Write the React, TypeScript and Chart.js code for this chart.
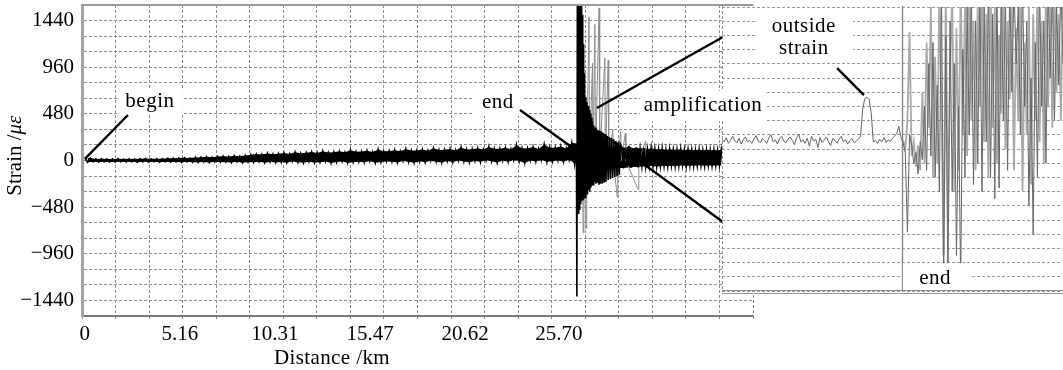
import React, { useEffect, useRef } from 'react';
import { Chart, registerables } from 'chart.js';

Chart.register(...registerables);

// ---------------- main chart: axes ----------------
const X_MIN_KM = -0.15;
const X_MAX_KM = 36.22;
const X_GRID_DIVISIONS = 20;
const X_TICK_LABELS_KM = [0, 5.16, 10.31, 15.47, 20.62, 25.7];

const Y_MIN = -1600;
const Y_MAX = 1600;
const Y_GRID_STEP = 160;
const Y_TICK_LABELS = [-1440, -960, -480, 0, 480, 960, 1440];

// ---------------- main chart: data ----------------
// strain noise along the fibre before its end (one sample every 0.15 km)
const NOISE_START_KM = 0;
const NOISE_STEP_KM = 0.15;
const NOISE_STRAIN = [
  30, -18, 25, -14, 16, -15, 18, -14, 16, -16,
  16, -15, 18, -14, 15, -16, 17, -13, 16, -17,
  18, -14, 20, -16, 17, -13, 19, -17, 18, -14,
  22, -16, 24, -15, 26, -18, 28, -14, 25, -17,
  32, -18, 34, -16, 38, -20, 34, -14, 40, -18,
  44, -16, 40, -20, 48, -14, 44, -22, 52, -16,
  60, -18, 66, -12, 62, -22, 72, -14, 64, -20,
  70, -16, 78, -22, 68, -10, 86, -18, 74, -24,
  80, -12, 88, -20, 78, -18, 96, -10, 82, -26,
  86, -16, 94, -10, 84, -24, 106, -18, 90, -12,
  92, -18, 100, -6, 88, -22, 112, -16, 96, -10,
  98, -12, 106, -20, 94, -4, 118, -14, 102, -22,
  104, -8, 112, -18, 100, -2, 126, -12, 108, -20,
  110, -6, 118, -16, 106, 0, 134, -10, 114, -18,
  116, -4, 126, -14, 112, 2, 140, -8, 120, -20,
  120, -2, 130, -12, 116, 4, 158, -6, 126, -26,
  124, 0, 138, -10, 118, 6, 165, -14, 132, -8,
  132, 2, 144, -12, 124, 8, 180, -30,
];

// the fibre end: huge reflection burst
const SPIKE_KM = [
  26.58, 26.62, 26.65, 26.67, 26.68,
  26.70, 26.72, 26.74, 26.76, 26.78, 26.80, 26.82, 26.84, 26.86, 26.88, 26.90, 26.92, 26.94, 26.96, 26.98,
  27.00, 27.02, 27.04, 27.06, 27.08, 27.10,
  27.13, 27.16, 27.19, 27.22, 27.25, 27.28, 27.31, 27.34, 27.37, 27.40, 27.43, 27.46, 27.49, 27.52, 27.55,
  27.59, 27.63, 27.67, 27.71, 27.75, 27.79, 27.83, 27.87, 27.91, 27.95,
  28.00, 28.05, 28.10, 28.15, 28.20, 28.25,
  28.31, 28.37, 28.43, 28.49, 28.55, 28.61, 28.67, 28.73, 28.79, 28.85, 28.91, 28.97, 29.03,
];
const SPIKE_STRAIN = [
  40, -20, 90, -60, -1400,
  1700, -500, 1700, -550, 1700, -500, 1700, -480, 1700, -450, 1650, -420, 1600, -400, 1500,
  -380, 1200, -400, 900, -350, 700,
  -380, 650, -330, 600, -350, 560, -300, 520, -320, 480, -280, 440, -260, 400, -250,
  360, -220, 340, -240, 320, -230, 310, -250, 300, -240,
  300, -240, 280, -230, 270, -220,
  250, -200, 240, -190, 230, -180, 220, -170, 200, -160, 190, -150, 170,
];

// noise after the fibre end (one sample every 0.1 km)
const TAIL_START_KM = 29.1;
const TAIL_STEP_KM = 0.1;
const TAIL_STRAIN = [
  140, -80, 130, -70, 150, -75, 125, -65, 135, -70,
  120, -60, 130, -65, 115, -55, 125, -60, 118, -62,
  112, -58, 120, -55, 108, -60, 116, -52, 110, -58,
  110, -55, 115, -50, 105, -58, 112, -52, 108, -55,
  106, -52, 112, -50, 104, -56, 110, -50, 106, -54,
  108, -50, 104, -52, 110, -48,
];

// faint grey echoes of the burst
const ECHO_KM = [
  26.99, 27.01, 27.05, 27.17, 27.21, 27.33, 27.36, 27.52, 27.55, 27.65, 27.68, 27.88, 27.91, 28.19, 28.22,
  28.37, 28.40, 28.62, 28.65, 28.86, 28.89, 29.05, 29.08, 29.30, 29.33, 30.00, 30.03, 30.40, 30.43,
];
const ECHO_STRAIN = [
  0, -745, 0, -700, 0, 1480, 0, 1000, 0, 1400, 0, 1570, 0, 1055, 0,
  1030, 0, 320, 0, -375, 0, 300, 0, 280, 0, -300, 0, 200, 0,
];

// ---------------- inset (amplified view near the end) ----------------
const INSET_MIN_KM = 26.3;
const INSET_MAX_KM = 27.1;
const INSET_Y_MIN = -200;
const INSET_Y_MAX = 200;
const INSET_Y_STEP = 20;
const INSET_STEP_KM = 0.005;
const INSET_END_KM = 26.722;
const INSET_DARK_STRAIN = [
  14, 10, 16, 8, 12, 18, 11, 9, 15, 7,
  13, 17, 10, 12, 8, 14, 19, 11, 9, 15,
  12, 8, 16, 20, 10, 13, 7, 15, 18, 11,
  9, 14, 17, 12, 6, 16, 21, 10, 13, 8,
  15, 4, 18, 11, 14, 2, 16, 9, 13, 17,
  10, 5, 15, 12, 8, 14, 18, 10, 13, 7,
  12, 15, 9, 11, 14,
  18, 56, 71, 73, 70, 51, 10,
  12, 8, 14, 10, 16, 9, 13, 11, 15, 18, 22, 32, 16,
  8, -5, -117, 20, 5, -20, -5, -35, 10, -15,
  60, -30, 120, -10, 150, -40, 90, -60, 230, -190,
  160, -200, 180, -60, 120, -150, 60, -190, 140, -40,
  200, 20, 230, -50, 180, -20, 230, -60, 200, 10,
  230, -40, 190, -70, 230, -55, 230, 40, 210, -30,
  230, 80, 230, 120, 200, 20, 230, 60, 180, -80,
  100, -120, 150, -40, 230, 60, 180, -20, 230, 100,
  230, 40, 200, 90, 230, 120,
];
const INSET_LIGHT_START_KM = 26.725;
const INSET_LIGHT_STRAIN = [
  12, 0, 40, 165, -10, 10, -25, 5, -30, 80,
  -20, 150, 30, 200, -40, 130, -20, 230, 50, -150,
  230, -100, 100, 230, -60, 170, -30, 230, 20, 200,
  -10, 230, 40, 180, -30, 210, 60, 230, 10, 190,
  -40, 230, 30, 200, -20, 160, 50, 230, 0, 180,
  70, 200, -30, 170, 40, 230, -60, 150, 20, 200,
  -50, 190, 40, 230, 10, 180, -20, 230, 60, 200,
  30, 230, 80, 190, 40, 220,
];

// ---------------- annotation anchors (data coordinates) ----------------
const BEGIN_TEXT = { km: 3.53, strain: 612 };
const BEGIN_LINE = [{ km: 0.02, strain: 20 }, { km: 2.34, strain: 468 }];
const END_TEXT = { km: 22.39, strain: 592 };
const END_LINE = [{ km: 23.59, strain: 520 }, { km: 26.46, strain: 129 }];
const AMP_TEXT = { km: 33.51, strain: 561 };
const AMP_LINE_UP = [{ km: 27.76, strain: 540 }, { km: 34.59, strain: 1271 }];
const AMP_LINE_DOWN = [{ km: 27.92, strain: 293 }, { km: 34.59, strain: -633 }];
const OUTSIDE_TEXT = { km: 26.492, top: 173, bottom: 141 };
const OUTSIDE_LINE = [{ km: 26.57, strain: 114 }, { km: 26.633, strain: 76 }];
const INSET_END_TEXT = { km: 26.8, strain: -182 };

const SERIF = '"Liberation Serif", "Times New Roman", serif';
const INSET_LEFT = 722;
const INSET_TOP = 6;
const INSET_W = 341;
const INSET_H = 289;

function xy(km: number[], strain: number[]) {
  return km.map((x, i) => ({ x, y: strain[i] }));
}
function stepped(startKm: number, stepKm: number, strain: number[]) {
  return strain.map((y, i) => ({ x: +(startKm + i * stepKm).toFixed(4), y }));
}

function line(ctx: any, x1: number, y1: number, x2: number, y2: number, w = 2.2, color = '#000') {
  ctx.save();
  ctx.strokeStyle = color;
  ctx.lineWidth = w;
  ctx.lineCap = 'butt';
  ctx.beginPath();
  ctx.moveTo(x1, y1);
  ctx.lineTo(x2, y2);
  ctx.stroke();
  ctx.restore();
}

function boxText(ctx: any, text: string, cx: number, cy: number, halfW: number, halfH: number) {
  ctx.save();
  ctx.fillStyle = '#fff';
  ctx.fillRect(cx - halfW, cy - halfH, halfW * 2, halfH * 2);
  ctx.fillStyle = '#000';
  ctx.font = `21px ${SERIF}`;
  (ctx as any).letterSpacing = '0.5px';
  ctx.textAlign = 'center';
  ctx.textBaseline = 'middle';
  ctx.fillText(text, cx, cy);
  ctx.restore();
}

export default function App() {
  const mainRef = useRef<HTMLCanvasElement>(null);
  const insetRef = useRef<HTMLCanvasElement>(null);

  useEffect(() => {
    const gridStep = (X_MAX_KM - X_MIN_KM) / X_GRID_DIVISIONS;
    const gridTicks: number[] = [];
    for (let k = 0; k <= X_GRID_DIVISIONS; k++) gridTicks.push(+(X_MIN_KM + k * gridStep).toFixed(4));
    const xTickValues = [...gridTicks, ...X_TICK_LABELS_KM].sort((a, b) => a - b);
    const isLabel = (v: any) => X_TICK_LABELS_KM.includes(v);

    const noisePts = stepped(NOISE_START_KM, NOISE_STEP_KM, NOISE_STRAIN);
    const tailPts = stepped(TAIL_START_KM, TAIL_STEP_KM, TAIL_STRAIN);
    const mainPoints = [...noisePts, ...xy(SPIKE_KM, SPIKE_STRAIN), ...tailPts];
    // envelope of the dense noise: peaks (even samples) and troughs (odd samples)
    const bandUpper = [...noisePts, ...tailPts].filter((_, i) => i % 2 === 0);
    const bandLower = [...noisePts, ...tailPts].filter((_, i) => i % 2 === 1);
    const echoPoints = xy(ECHO_KM, ECHO_STRAIN);

    const mainDecor = {
      id: 'mainDecor',
      beforeDraw(chart: any) {
        const ctx = chart.ctx;
        ctx.save();
        ctx.fillStyle = '#fff';
        ctx.fillRect(0, 0, chart.width, chart.height);
        ctx.restore();
      },
      afterDraw(chart: any) {
        const ctx = chart.ctx;
        const xs = chart.scales.x;
        const ys = chart.scales.y;
        const a = chart.chartArea;
        const P = (p: any) => [xs.getPixelForValue(p.km), ys.getPixelForValue(p.strain)];
        // top frame
        line(ctx, a.left, a.top, a.right, a.top, 2, '#9a9a9a');

        // labels
        const [bx, by] = P(BEGIN_TEXT);
        boxText(ctx, 'begin', bx, by, 33, 13);
        const [ex, ey] = P(END_TEXT);
        boxText(ctx, 'end', ex, ey, 24, 13);
        const [ax, ay] = P(AMP_TEXT);
        boxText(ctx, 'amplification', ax, ay, 63, 15);

        // leader lines
        for (const seg of [BEGIN_LINE, END_LINE, AMP_LINE_UP, AMP_LINE_DOWN]) {
          const [x1, y1] = P(seg[0]);
          const [x2, y2] = P(seg[1]);
          line(ctx, x1, y1, x2, y2, 2.4);
        }

        // axis titles
        ctx.save();
        ctx.fillStyle = '#000';
        ctx.font = `21px ${SERIF}`;
        (ctx as any).letterSpacing = '0.4px';
        ctx.textAlign = 'center';
        ctx.textBaseline = 'middle';
        ctx.fillText('Distance /km', xs.getPixelForValue(13.4), a.bottom + 42);
        ctx.restore();

        ctx.save();
        ctx.translate(15, ys.getPixelForValue(50));
        ctx.rotate(-Math.PI / 2);
        ctx.fillStyle = '#000';
        ctx.textBaseline = 'middle';
        ctx.textAlign = 'left';
        ctx.font = `21px ${SERIF}`;
        const part1 = 'Strain /';
        const w1 = ctx.measureText(part1).width;
        ctx.font = `italic 21px ${SERIF}`;
        const w2 = ctx.measureText('\u03bc\u03b5').width;
        const start = -(w1 + w2) / 2;
        ctx.font = `21px ${SERIF}`;
        ctx.fillText(part1, start, 0);
        ctx.font = `italic 21px ${SERIF}`;
        ctx.fillText('\u03bc\u03b5', start + w1, 0);
        ctx.restore();
      },
    };

    const main = new Chart(mainRef.current as HTMLCanvasElement, {
      type: 'line',
      data: {
        datasets: [
          { label: 'strain', data: mainPoints, borderColor: '#000', borderWidth: 1.6, pointRadius: 0, tension: 0, fill: false },
          { label: 'echo', data: echoPoints, borderColor: '#8c8c8c', borderWidth: 1, pointRadius: 0, tension: 0, fill: false },
          { label: 'band upper', data: bandUpper, borderWidth: 0, borderColor: 'rgba(0,0,0,0)', pointRadius: 0, tension: 0, fill: false },
          { label: 'band lower', data: bandLower, borderWidth: 0, borderColor: 'rgba(0,0,0,0)', backgroundColor: '#000', pointRadius: 0, tension: 0, fill: '-1' },
        ],
      } as any,
      options: {
        responsive: false,
        animation: false,
        devicePixelRatio: 1,
        layout: { padding: { left: 0, right: 1063 - 753, top: 5, bottom: 0 } },
        plugins: { legend: { display: false }, tooltip: { enabled: false }, title: { display: false } },
        scales: {
          x: {
            type: 'linear',
            min: X_MIN_KM,
            max: X_MAX_KM,
            afterBuildTicks: (s: any) => {
              s.ticks = xTickValues.map((v) => ({ value: v }));
            },
            afterFit: (s: any) => {
              s.height = 54;
              s.paddingLeft = 0;
              s.paddingRight = 0;
            },
            ticks: {
              autoSkip: false,
              maxRotation: 0,
              minRotation: 0,
              padding: 3,
              color: '#000',
              font: { family: SERIF, size: 21 },
              callback: (v: any) => (isLabel(v) ? (v === 0 ? '0' : Number(v).toFixed(2)) : ''),
            },
            grid: {
              color: (c: any) => (c.tick && isLabel(c.tick.value) ? 'rgba(0,0,0,0)' : '#8e8e8e'),
              lineWidth: 1,
              drawTicks: true,
              tickLength: 3,
            },
            border: { display: true, color: '#7a7a7a', width: 2, dash: [3, 2] },
          },
          y: {
            type: 'linear',
            min: Y_MIN,
            max: Y_MAX,
            afterFit: (s: any) => {
              s.width = 82;
              s.paddingTop = 0;
              s.paddingBottom = 0;
            },
            ticks: {
              stepSize: Y_GRID_STEP,
              autoSkip: false,
              padding: 8,
              color: '#000',
              font: { family: SERIF, size: 21 },
              callback: (v: any) => {
                const n = Math.round(Number(v));
                if (!Y_TICK_LABELS.includes(n)) return '';
                return n < 0 ? '\u2212' + Math.abs(n) : String(n);
              },
            },
            grid: { color: '#8e8e8e', lineWidth: 1, drawTicks: false },
            border: { display: true, color: '#a3a3a3', width: 3, dash: [3, 2] },
          },
        },
      } as any,
      plugins: [mainDecor],
    });

    const insetDark = stepped(INSET_MIN_KM, INSET_STEP_KM, INSET_DARK_STRAIN);
    const insetLight = stepped(INSET_LIGHT_START_KM, INSET_STEP_KM, INSET_LIGHT_STRAIN);

    const insetDecor = {
      id: 'insetDecor',
      beforeDraw(chart: any) {
        const ctx = chart.ctx;
        ctx.save();
        ctx.fillStyle = '#fff';
        ctx.fillRect(0, 0, chart.width, chart.height);
        ctx.restore();
      },
      beforeDatasetsDraw(chart: any) {
        const ctx = chart.ctx;
        const xs = chart.scales.x;
        const a = chart.chartArea;
        const x = Math.round(xs.getPixelForValue(INSET_END_KM)) + 0.5;
        line(ctx, x, 0, x, a.bottom, 1.4, '#858585');
      },
      afterDraw(chart: any) {
        const ctx = chart.ctx;
        const xs = chart.scales.x;
        const ys = chart.scales.y;
        const a = chart.chartArea;
        // bottom double frame
        line(ctx, 0, a.bottom - 0.5, chart.width, a.bottom - 0.5, 1.2, '#8a8a8a');
        line(ctx, 0, a.bottom + 2.5, chart.width, a.bottom + 2.5, 1.2, '#9a9a9a');
        // left dashed edge
        ctx.save();
        ctx.setLineDash([3, 2]);
        line(ctx, 0.5, 0, 0.5, a.bottom, 1, '#8e8e8e');
        ctx.restore();

        // "end" label inside inset
        const endX = xs.getPixelForValue(INSET_END_KM);
        const tx = xs.getPixelForValue(INSET_END_TEXT.km);
        const ty = ys.getPixelForValue(INSET_END_TEXT.strain);
        ctx.save();
        ctx.fillStyle = '#fff';
        ctx.fillRect(endX + 1, ty - 15, (tx - endX) * 2 + 2, a.bottom - 1 - (ty - 15));
        ctx.restore();
        boxText(ctx, 'end', tx, ty, 0, 0);

        // "outside strain"
        const ox = xs.getPixelForValue(OUTSIDE_TEXT.km);
        const oy1 = ys.getPixelForValue(OUTSIDE_TEXT.top);
        const oy2 = ys.getPixelForValue(OUTSIDE_TEXT.bottom);
        ctx.save();
        ctx.fillStyle = '#fff';
        ctx.fillRect(ox - 48, oy1 - 15, 97, oy2 - oy1 + 28);
        ctx.restore();
        boxText(ctx, 'outside', ox, oy1, 0, 0);
        boxText(ctx, 'strain', ox, oy2, 0, 0);
        const l1x = xs.getPixelForValue(OUTSIDE_LINE[0].km);
        const l1y = ys.getPixelForValue(OUTSIDE_LINE[0].strain);
        const l2x = xs.getPixelForValue(OUTSIDE_LINE[1].km);
        const l2y = ys.getPixelForValue(OUTSIDE_LINE[1].strain);
        line(ctx, l1x, l1y, l2x, l2y, 2.4);

        // the part of "amplification" that overlaps the inset
        const ms = main.scales as any;
        const mx = ms.x.getPixelForValue(AMP_TEXT.km) - INSET_LEFT;
        const my = ms.y.getPixelForValue(AMP_TEXT.strain) - INSET_TOP;
        boxText(ctx, 'amplification', mx, my, 63, 15);
      },
    };

    const inset = new Chart(insetRef.current as HTMLCanvasElement, {
      type: 'line',
      data: {
        datasets: [
          { label: 'inset dark', data: insetDark, borderColor: '#666', borderWidth: 1, pointRadius: 0, tension: 0 },
          { label: 'inset light', data: insetLight, borderColor: '#aaa', borderWidth: 1.8, pointRadius: 0, tension: 0 },
        ],
      } as any,
      options: {
        responsive: false,
        animation: false,
        devicePixelRatio: 1,
        layout: { padding: { left: 0, right: 0, top: 1, bottom: 4 } },
        plugins: { legend: { display: false }, tooltip: { enabled: false } },
        scales: {
          x: { type: 'linear', min: INSET_MIN_KM, max: INSET_MAX_KM, display: false },
          y: {
            type: 'linear',
            min: INSET_Y_MIN,
            max: INSET_Y_MAX,
            afterFit: (s: any) => {
              s.width = 0;
              s.paddingTop = 0;
              s.paddingBottom = 0;
            },
            ticks: { display: false, stepSize: INSET_Y_STEP },
            grid: { color: '#9a9a9a', lineWidth: 1, drawTicks: false },
            border: { display: false, dash: [3, 2] },
          },
        },
      } as any,
      plugins: [insetDecor],
    });

    return () => {
      inset.destroy();
      main.destroy();
    };
  }, []);

  return (
    <div style={{ position: 'absolute', left: 0, top: 0, width: 1063, height: 370, background: '#fff', overflow: 'hidden' }}>
      <canvas ref={mainRef} width={1063} height={370} style={{ position: 'absolute', left: 0, top: 0 }} />
      <canvas
        ref={insetRef}
        width={INSET_W}
        height={INSET_H}
        style={{ position: 'absolute', left: INSET_LEFT, top: INSET_TOP }}
      />
    </div>
  );
}
